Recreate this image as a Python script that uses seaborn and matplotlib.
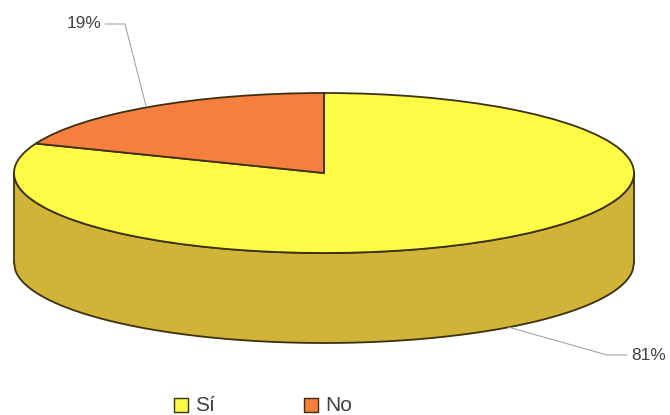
import numpy as np
import seaborn as sns
import matplotlib.pyplot as plt
from matplotlib.transforms import Affine2D

categorias = ['Sí', 'No']
valores = [81, 19]
etiquetas = ['81%', '19%']
colores = ['#fdfb45', '#f57f3e']

sns.set_theme(style="white")
plt.rcParams['font.family'] = ['Liberation Sans', 'DejaVu Sans']

fig = plt.figure(figsize=(6.7, 4.15), dpi=100, facecolor='white')
ax = fig.add_axes([0, 0, 1, 1])

# Elipse en pixeles: centro (324,173), radios 310 y 80, altura 90
cx, cy, rx, ry, alto = 324, 415 - 173, 310, 80, 90
linea = '#3d3010'

# Pared lateral
t = np.linspace(-1, 1, 400)
borde = cy - ry * np.sqrt(1 - t ** 2)
ax.fill_between(cx + rx * t, borde, borde - alto, color='#cfb437', lw=0, zorder=1)
ax.plot(cx + rx * t, borde - alto, color=linea, lw=1.3, zorder=2)
ax.plot(cx + rx * t, borde, color=linea, lw=1.3, zorder=2)
ax.plot([cx - rx, cx - rx], [cy, cy - alto], color=linea, lw=1.3, zorder=2)
ax.plot([cx + rx, cx + rx], [cy, cy - alto], color=linea, lw=1.3, zorder=2)

# Tapa: circulo unidad deformado con una transformacion
wedges, _ = ax.pie(
    valores,
    colors=colores,
    startangle=90,
    counterclock=False,
    radius=1,
    wedgeprops={'edgecolor': linea, 'linewidth': 1.3, 'zorder': 3},
)
ax.set_aspect('auto')
ax.set_xlim(0, 670)
ax.set_ylim(0, 415)
ax.axis('off')
for w in wedges:
    w.set_transform(Affine2D().scale(rx, ry).translate(cx, cy) + ax.transData)

# Guias y etiquetas
ax.plot([146, 125, 105], [415 - 106, 415 - 24, 415 - 24], color='#9a9a92', lw=0.7, zorder=4)
ax.plot([508, 607, 627], [415 - 327, 415 - 355, 415 - 355], color='#9a9a92', lw=0.7, zorder=4)
ax.text(84, 415 - 24, etiquetas[1], ha='center', va='center', fontsize=12.4, color='#404040')
ax.text(649, 415 - 355, etiquetas[0], ha='center', va='center', fontsize=12.4, color='#404040')

# Leyenda
for x0, nombre, col in zip([174, 304], categorias, colores):
    ax.scatter([x0 + 7], [415 - 405], marker='s', s=95, color=col, edgecolor=linea, lw=1.0, zorder=4)
    ax.text(x0 + 21, 415 - 405, nombre, ha='left', va='center', fontsize=15, color='#404040')

fig.savefig('out.png', dpi=100, facecolor='white')
